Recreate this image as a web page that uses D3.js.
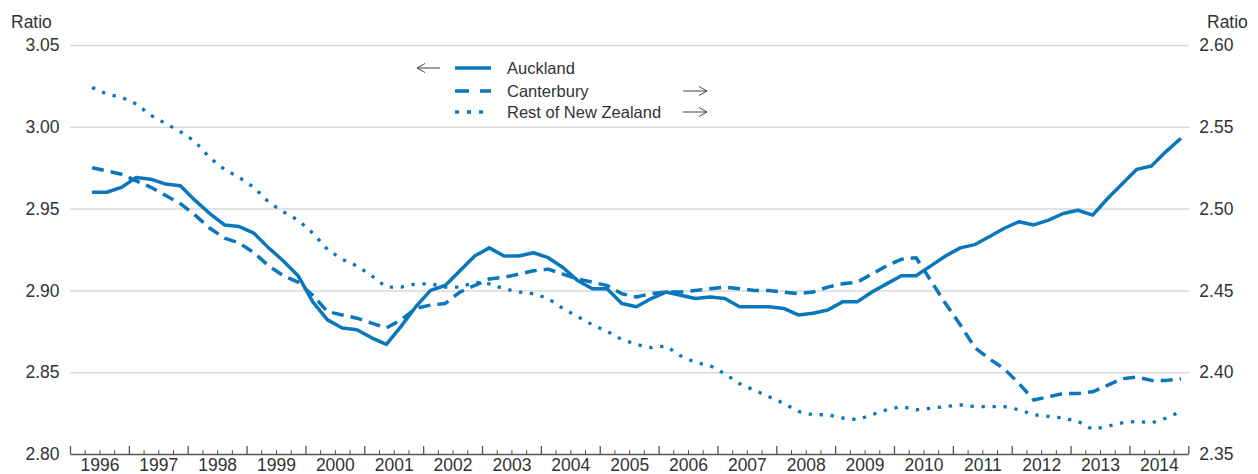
<!DOCTYPE html>
<html>
<head>
<meta charset="utf-8">
<script src="https://cdn.jsdelivr.net/npm/d3@7"></script>
<style>
  html, body { margin: 0; padding: 0; background: #fff; }
  svg { display: block; font-family: "Liberation Sans", Arial, Helvetica, sans-serif; }
</style>
</head>
<body>
<svg id="chart" width="1258" height="474"></svg>
<script>
// Quarterly periods, 1996 Q2 to 2014 Q4
const quarters = [
  "1996Q2","1996Q3","1996Q4",
  "1997Q1","1997Q2","1997Q3","1997Q4",
  "1998Q1","1998Q2","1998Q3","1998Q4",
  "1999Q1","1999Q2","1999Q3","1999Q4",
  "2000Q1","2000Q2","2000Q3","2000Q4",
  "2001Q1","2001Q2","2001Q3","2001Q4",
  "2002Q1","2002Q2","2002Q3","2002Q4",
  "2003Q1","2003Q2","2003Q3","2003Q4",
  "2004Q1","2004Q2","2004Q3","2004Q4",
  "2005Q1","2005Q2","2005Q3","2005Q4",
  "2006Q1","2006Q2","2006Q3","2006Q4",
  "2007Q1","2007Q2","2007Q3","2007Q4",
  "2008Q1","2008Q2","2008Q3","2008Q4",
  "2009Q1","2009Q2","2009Q3","2009Q4",
  "2010Q1","2010Q2","2010Q3","2010Q4",
  "2011Q1","2011Q2","2011Q3","2011Q4",
  "2012Q1","2012Q2","2012Q3","2012Q4",
  "2013Q1","2013Q2","2013Q3","2013Q4",
  "2014Q1","2014Q2","2014Q3","2014Q4"
];

// Auckland ratio (left axis)
const auckland = [
  2.960,2.960,2.963,2.969,2.968,2.965,2.964,2.955,2.947,2.940,
  2.939,2.935,2.926,2.918,2.909,2.893,2.882,2.877,2.876,2.871,
  2.867,2.878,2.890,2.900,2.903,2.912,2.921,2.926,2.921,2.921,
  2.923,2.920,2.914,2.906,2.901,2.901,2.892,2.890,2.895,2.899,
  2.897,2.895,2.896,2.895,2.890,2.890,2.890,2.889,2.885,2.886,
  2.888,2.893,2.893,2.899,2.904,2.909,2.909,2.915,2.921,2.926,
  2.928,2.933,2.938,2.942,2.940,2.943,2.947,2.949,2.946,2.956,
  2.965,2.974,2.976,2.985,2.993
];

// Canterbury ratio (right axis)
const canterbury = [
  2.525,2.523,2.521,2.517,2.513,2.508,2.503,2.496,2.488,2.482,
  2.479,2.473,2.465,2.459,2.455,2.447,2.437,2.435,2.433,2.430,
  2.427,2.432,2.439,2.441,2.442,2.449,2.453,2.457,2.458,2.460,
  2.462,2.463,2.460,2.457,2.455,2.453,2.448,2.446,2.448,2.449,
  2.449,2.450,2.451,2.452,2.451,2.450,2.450,2.449,2.448,2.449,
  2.452,2.454,2.455,2.460,2.465,2.469,2.470,2.456,2.442,2.429,
  2.415,2.408,2.402,2.393,2.383,2.385,2.387,2.387,2.388,2.392,
  2.396,2.397,2.395,2.395,2.396
];

// Rest of New Zealand ratio (right axis)
const restOfNZ = [
  2.574,2.570,2.568,2.564,2.557,2.552,2.547,2.541,2.531,2.524,
  2.519,2.513,2.504,2.498,2.493,2.485,2.475,2.469,2.465,2.459,
  2.452,2.452,2.454,2.454,2.452,2.452,2.455,2.454,2.451,2.449,
  2.448,2.445,2.439,2.434,2.429,2.425,2.420,2.417,2.415,2.416,
  2.410,2.406,2.404,2.399,2.393,2.389,2.385,2.381,2.376,2.374,
  2.374,2.372,2.371,2.374,2.377,2.379,2.377,2.378,2.379,2.380,
  2.379,2.379,2.379,2.377,2.374,2.373,2.372,2.370,2.365,2.367,
  2.369,2.370,2.369,2.372,2.376
];

const years = [1996,1997,1998,1999,2000,2001,2002,2003,2004,2005,2006,2007,2008,2009,2010,2011,2012,2013,2014];
const leftTicks = [2.80, 2.85, 2.90, 2.95, 3.00, 3.05];
const rightTicks = [2.35, 2.40, 2.45, 2.50, 2.55, 2.60];
const legendLabels = ["Auckland", "Canterbury", "Rest of New Zealand"];

const BLUE = "#0a77bd";
const TEXT = "#333";

const svg = d3.select("#chart");
const plotLeft = 70, plotRight = 1188.3, plotTop = 45, plotBottom = 454;

// Quarter label -> fractional year at the middle of the quarter
const qTime = q => +q.slice(0, 4) + (+q.slice(5) - 1) * 0.25 + 0.125;

const x = d3.scaleLinear().domain([1996, 2015]).range([plotLeft, plotRight]);
const yL = d3.scaleLinear().domain([2.80, 3.05]).range([plotBottom, plotTop]);
const yR = d3.scaleLinear().domain([2.35, 2.60]).range([plotBottom, plotTop]);

// Horizontal gridlines
const grid = svg.append("g").attr("transform", `translate(${plotLeft},0)`)
  .call(d3.axisLeft(yL).tickValues(leftTicks.slice(1)).tickSize(-(plotRight - plotLeft + 1)).tickFormat(""));
grid.select(".domain").remove();
grid.selectAll(".tick line").attr("stroke", "#d9d9d9").attr("stroke-width", 1.5);

// Left axis labels
const la = svg.append("g").attr("transform", `translate(${plotLeft},0)`)
  .call(d3.axisLeft(yL).tickValues(leftTicks).tickSize(0).tickPadding(10.5).tickFormat(d3.format(".2f")));
la.select(".domain").remove();
la.selectAll("text").attr("fill", TEXT).style("font-size", "17.5px");

// Right axis labels
const ra = svg.append("g").attr("transform", `translate(${plotRight},0)`)
  .call(d3.axisRight(yR).tickValues(rightTicks).tickSize(0).tickPadding(11).tickFormat(d3.format(".2f")));
ra.select(".domain").remove();
ra.selectAll("text").attr("fill", TEXT).style("font-size", "17.5px");

// Axis titles
svg.append("text").attr("x", 11).attr("y", 27.5).attr("fill", TEXT)
  .style("font-size", "17.5px").text("Ratio");
svg.append("text").attr("x", 1207).attr("y", 27.5).attr("fill", TEXT)
  .style("font-size", "17.5px").text("Ratio");

// Bottom axis: minor quarter ticks, major year ticks, year labels
const quarterTicks = [];
years.forEach(yv => [0.25, 0.5, 0.75].forEach(f => quarterTicks.push(yv + f)));

const minor = svg.append("g").attr("transform", `translate(0,${plotBottom})`)
  .call(d3.axisBottom(x).tickValues(quarterTicks).tickSizeInner(-4).tickSizeOuter(0).tickFormat(""));
minor.select(".domain").remove();
minor.selectAll(".tick line").attr("stroke", "#555").attr("stroke-width", 1);

const major = svg.append("g").attr("transform", `translate(0,${plotBottom})`)
  .call(d3.axisBottom(x).tickValues(years.concat([2015])).tickSizeInner(-8).tickSizeOuter(0).tickFormat(""));
major.select(".domain").attr("stroke", "#555").attr("stroke-width", 1.5);
major.selectAll(".tick line").attr("stroke", "#555").attr("stroke-width", 1.3);

const yl = svg.append("g").attr("transform", `translate(0,${plotBottom})`)
  .call(d3.axisBottom(x).tickValues(years.map(d => d + 0.5)).tickSize(0).tickPadding(5)
    .tickFormat(d => String(Math.floor(d))));
yl.select(".domain").remove();
yl.selectAll("text").attr("fill", TEXT).style("font-size", "17.5px");

// Series
const styles = [
  { values: auckland,   y: yL, dash: null,      width: 3.5, legendDash: null },
  { values: canterbury, y: yR, dash: "12,7",    width: 3.5, legendDash: "14,11" },
  { values: restOfNZ,   y: yR, dash: "3.3,7.7", width: 3.3, legendDash: "4,8" }
];

styles.forEach(s => {
  const line = d3.line().x((d, i) => x(qTime(quarters[i]))).y(d => s.y(d));
  svg.append("path")
    .datum(s.values)
    .attr("fill", "none")
    .attr("stroke", BLUE)
    .attr("stroke-width", s.width)
    .attr("stroke-linejoin", "round")
    .attr("stroke-dasharray", s.dash)
    .attr("d", line);
});

// Legend
const lg = svg.append("g");
const rowY = [68, 91, 112];
legendLabels.forEach((label, i) => {
  lg.append("line")
    .attr("x1", 455).attr("x2", 491).attr("y1", rowY[i]).attr("y2", rowY[i])
    .attr("stroke", BLUE).attr("stroke-width", 3.5)
    .attr("stroke-dasharray", styles[i].legendDash);
  lg.append("text")
    .attr("x", 507).attr("y", rowY[i]).attr("dy", "0.36em")
    .attr("fill", TEXT).style("font-size", "16.5px").text(label);
});

// Arrows pointing to the axis each series is read against
function arrow(x1, x2, yy) {
  const dir = Math.sign(x2 - x1);
  lg.append("path")
    .attr("d", `M${x1},${yy}H${x2}M${x2 - dir * 8},${yy - 4.5}L${x2},${yy}L${x2 - dir * 8},${yy + 4.5}`)
    .attr("fill", "none").attr("stroke", "#444").attr("stroke-width", 1);
}
arrow(440, 417, 68);
arrow(683, 707, 91);
arrow(683, 707, 112);
</script>
</body>
</html>
